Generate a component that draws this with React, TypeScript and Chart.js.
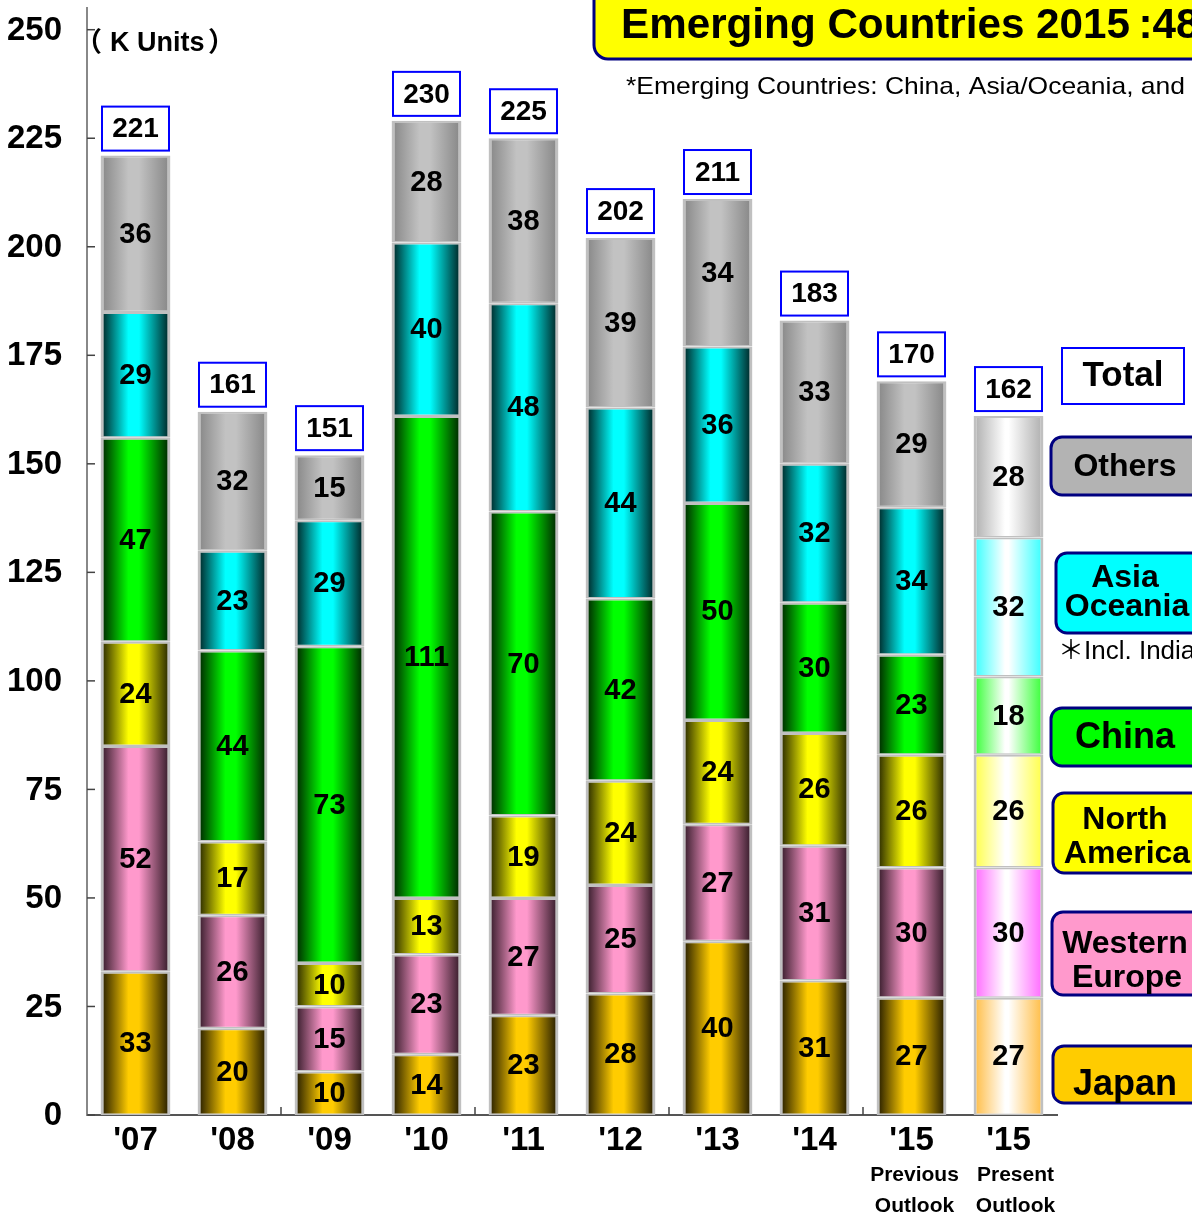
import React, { useEffect, useRef } from "react";
import { Chart, registerables } from "chart.js";

Chart.register(...registerables);

const categories = ["'07", "'08", "'09", "'10", "'11", "'12", "'13", "'14", "'15", "'15"];
const subLabels: string[][] = [[], [], [], [], [], [], [], [], ["Previous", "Outlook"], ["Present", "Outlook"]];

const japan = [33, 20, 10, 14, 23, 28, 40, 31, 27, 27];
const westernEurope = [52, 26, 15, 23, 27, 25, 27, 31, 30, 30];
const northAmerica = [24, 17, 10, 13, 19, 24, 24, 26, 26, 26];
const china = [47, 44, 73, 111, 70, 42, 50, 30, 23, 18];
const asiaOceania = [29, 23, 29, 40, 48, 44, 36, 32, 34, 32];
const others = [36, 32, 15, 28, 38, 39, 34, 33, 29, 28];
const totals = [221, 161, 151, 230, 225, 202, 211, 183, 170, 162];

const yTicks = [0, 25, 50, 75, 100, 125, 150, 175, 200, 225, 250];

const seriesNames = ["Japan", "Western Europe", "North America", "China", "Asia Oceania", "Others"];
const seriesData = [japan, westernEurope, northAmerica, china, asiaOceania, others];
const seriesBright = ["#ffcc00", "#ff99cc", "#ffff00", "#00ff00", "#00ffff", "#c2c2c2"];
const seriesDark = ["#1c1500", "#2c1622", "#1e1e00", "#001c00", "#001c1c", "#858585"];
const presentEdge = ["#ffbb40", "#ff66ff", "#ffff44", "#33ff33", "#33ffff", "#adadad"];

const titleText = "Emerging Countries 2015\u2009:48%";
const subtitleText = "*Emerging Countries: China, Asia/Oceania, and Others";
const unitParts = ["\uFF08", "K Units", "\uFF09"];
const noteText = "\uFF0AIncl. India";

const F = "'Liberation Sans', Arial, 'Noto Sans CJK JP', sans-serif";
const BAR_PCT = 0.72;

function roundRectPath(ctx: CanvasRenderingContext2D, x: number, y: number, w: number, h: number, r: number) {
  ctx.beginPath();
  ctx.moveTo(x + r, y);
  ctx.lineTo(x + w - r, y);
  ctx.arcTo(x + w, y, x + w, y + r, r);
  ctx.lineTo(x + w, y + h - r);
  ctx.arcTo(x + w, y + h, x + w - r, y + h, r);
  ctx.lineTo(x + r, y + h);
  ctx.arcTo(x, y + h, x, y + h - r, r);
  ctx.lineTo(x, y + r);
  ctx.arcTo(x, y, x + r, y, r);
  ctx.closePath();
}

// draw text left-aligned, horizontally scaled so that `prefix` spans `prefixWidth`
function drawFitted(ctx: CanvasRenderingContext2D, text: string, prefix: string, prefixWidth: number, x: number, y: number) {
  const m = ctx.measureText(prefix).width;
  const sx = m > 0 ? prefixWidth / m : 1;
  ctx.save();
  ctx.translate(x, y);
  ctx.scale(sx, 1);
  ctx.fillText(text, 0, 0);
  ctx.restore();
}

function makeBg(si: number) {
  return (c: any) => {
    const chart = c.chart;
    if (!chart.chartArea || c.dataIndex === undefined) return seriesBright[si];
    const xs = chart.scales.x;
    const cx = xs.getPixelForValue(c.dataIndex);
    const w = (xs.width / categories.length) * BAR_PCT;
    const g = chart.ctx.createLinearGradient(cx - w / 2, 0, cx + w / 2, 0);
    if (c.dataIndex === categories.length - 1) {
      g.addColorStop(0, presentEdge[si]);
      g.addColorStop(0.45, "#ffffff");
      g.addColorStop(0.5, "#ffffff");
      g.addColorStop(1, presentEdge[si]);
    } else {
      g.addColorStop(0, seriesDark[si]);
      g.addColorStop(0.4, seriesBright[si]);
      g.addColorStop(0.55, seriesBright[si]);
      g.addColorStop(1, seriesDark[si]);
    }
    return g;
  };
}

const legendItems = [
  { lines: ["Others"], fill: "#b3b3b3", y: 437, h: 58, x: 1051, size: 32, ly: [467] },
  { lines: ["Asia", "Oceania"], fill: "#00ffff", y: 553, h: 80, x: 1056, size: 32, ly: [578, 607] },
  { lines: ["China"], fill: "#00ff00", y: 708, h: 58, x: 1051, size: 36, ly: [738] },
  { lines: ["North", "America"], fill: "#ffff00", y: 793, h: 80, x: 1053, size: 32, ly: [820, 854] },
  { lines: ["Western", "Europe"], fill: "#ff99cc", y: 912, h: 83, x: 1052, size: 32, ly: [944, 978] },
  { lines: ["Japan"], fill: "#ffcc00", y: 1046, h: 57, x: 1053, size: 36, ly: [1085] },
];

const subOffsets = [3, 7];

const overlay = {
  id: "overlay",
  afterDraw(chart: any) {
    const { ctx, chartArea: a } = chart;
    const xs = chart.scales.x;
    const ys = chart.scales.y;
    ctx.save();

    // y ticks + labels
    ctx.strokeStyle = "#444";
    ctx.lineWidth = 1.5;
    ctx.fillStyle = "#000";
    ctx.font = `bold 33px ${F}`;
    ctx.textAlign = "right";
    ctx.textBaseline = "middle";
    ys.ticks.forEach((t: any) => {
      const y = ys.getPixelForValue(t.value);
      ctx.beginPath();
      ctx.moveTo(a.left, y);
      ctx.lineTo(a.left + 8, y);
      ctx.stroke();
      ctx.fillText(String(t.value), a.left - 25, y + 1);
    });

    // x ticks at every other boundary
    for (let i = 2; i < categories.length; i += 2) {
      const bx = (xs.getPixelForValue(i - 1) + xs.getPixelForValue(i)) / 2;
      ctx.beginPath();
      ctx.moveTo(bx, a.bottom);
      ctx.lineTo(bx, a.bottom - 8);
      ctx.stroke();
    }

    // x labels
    ctx.textAlign = "center";
    let subCount = 0;
    categories.forEach((lab, i) => {
      const x = xs.getPixelForValue(i);
      ctx.font = `bold 33px ${F}`;
      ctx.fillText(lab, x, 1141);
      const sub = subLabels[i];
      if (sub.length) {
        const off = subOffsets[subCount % subOffsets.length];
        subCount++;
        ctx.font = `bold 21px ${F}`;
        sub.forEach((s, k) => ctx.fillText(s, x + off, 1175 + k * 31));
      }
    });

    // data labels
    ctx.font = `bold 29px ${F}`;
    seriesData.forEach((arr, si) => {
      const meta = chart.getDatasetMeta(si);
      meta.data.forEach((el: any, i: number) => {
        ctx.fillText(String(arr[i]), el.x, (el.y + el.base) / 2 + 1);
      });
    });

    // totals
    const topMeta = chart.getDatasetMeta(seriesData.length - 1);
    topMeta.data.forEach((el: any, i: number) => {
      const w = 67, h = 44;
      const bottom = el.y - 5;
      ctx.fillStyle = "#fff";
      ctx.fillRect(el.x - w / 2, bottom - h, w, h);
      ctx.strokeStyle = "#0000ff";
      ctx.lineWidth = 2;
      ctx.strokeRect(el.x - w / 2, bottom - h, w, h);
      ctx.fillStyle = "#000";
      ctx.font = `bold 28px ${F}`;
      ctx.fillText(String(totals[i]), el.x, bottom - h / 2 + 1);
    });

    // title
    roundRectPath(ctx, 594, -30, 640, 89, 14);
    ctx.fillStyle = "#ffff00";
    ctx.fill();
    ctx.strokeStyle = "#000080";
    ctx.lineWidth = 3;
    ctx.stroke();
    ctx.fillStyle = "#000";
    ctx.textAlign = "left";
    ctx.textBaseline = "alphabetic";
    ctx.font = `bold 42px ${F}`;
    drawFitted(ctx, titleText, "Emerging Countries 2015", 509, 621, 38);

    ctx.font = `24px ${F}`;
    ctx.textBaseline = "middle";
    drawFitted(ctx, subtitleText, "*Emerging Countries: China, Asia/Oceania, and", 559, 626, 87);

    ctx.font = `bold 27px ${F}`;
    ctx.fillText(unitParts[0], 75, 44);
    ctx.fillText(unitParts[1], 110, 44);
    ctx.fillText(unitParts[2], 208, 44);

    // Total legend box
    ctx.fillStyle = "#fff";
    ctx.fillRect(1062, 348, 122, 56);
    ctx.strokeStyle = "#0000ff";
    ctx.lineWidth = 2;
    ctx.strokeRect(1062, 348, 122, 56);
    ctx.fillStyle = "#000";
    ctx.textAlign = "center";
    ctx.font = `bold 35px ${F}`;
    ctx.fillText("Total", 1123, 376);

    // legend items
    legendItems.forEach((it) => {
      roundRectPath(ctx, it.x, it.y, 170, it.h, 11);
      ctx.fillStyle = it.fill;
      ctx.fill();
      ctx.strokeStyle = "#000080";
      ctx.lineWidth = 3;
      ctx.stroke();
      ctx.fillStyle = "#000";
      ctx.font = `bold ${it.size}px ${F}`;
      it.lines.forEach((ln, k) => ctx.fillText(ln, 1125 + k * 2, it.ly[k]));
    });

    ctx.textAlign = "left";
    ctx.font = `26px ${F}`;
    ctx.fillText(noteText, 1058, 652);

    ctx.restore();
  },
};

export default function App() {
  const ref = useRef<HTMLCanvasElement | null>(null);
  useEffect(() => {
    if (!ref.current) return;
    const chart = new Chart(ref.current, {
      type: "bar",
      data: {
        labels: categories,
        datasets: seriesData.map((d, si) => ({
          label: seriesNames[si],
          data: d,
          backgroundColor: makeBg(si),
          borderColor: "#c0c0c0",
          borderWidth: { left: 3, right: 3, top: 2, bottom: 1.5 },
          borderSkipped: false,
          barPercentage: BAR_PCT,
          categoryPercentage: 1,
        })),
      },
      options: {
        animation: false,
        responsive: true,
        maintainAspectRatio: false,
        layout: { padding: { left: 87, top: 8, right: 135, bottom: 102 } },
        plugins: { legend: { display: false }, tooltip: { enabled: false }, title: { display: false } },
        scales: {
          x: {
            stacked: true,
            grid: { display: false, drawTicks: false },
            ticks: { display: false },
            border: { display: true, color: "#555", width: 2 },
          },
          y: {
            stacked: true,
            min: 0,
            max: 255,
            grid: { display: false, drawTicks: false },
            ticks: { display: false },
            border: { display: true, color: "#888", width: 2 },
            afterBuildTicks: (scale: any) => {
              scale.ticks = yTicks.map((v) => ({ value: v }));
            },
          },
        },
      },
      plugins: [overlay],
    });
    return () => chart.destroy();
  }, []);
  return (
    <div style={{ position: "absolute", left: 0, top: 0, width: 1192, height: 1217, background: "#fff" }}>
      <canvas ref={ref} />
    </div>
  );
}
